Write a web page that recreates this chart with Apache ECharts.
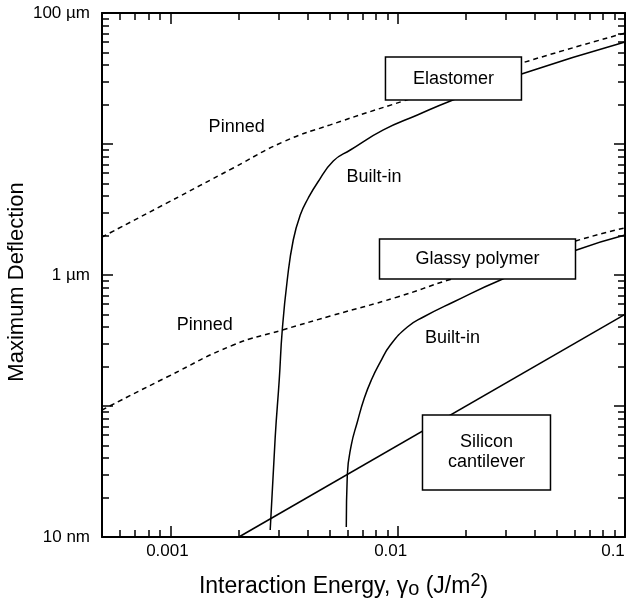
<!DOCTYPE html>
<html><head><meta charset="utf-8">
<script src="https://cdn.jsdelivr.net/npm/echarts@6/dist/echarts.min.js"></script>
<style>html,body{margin:0;padding:0;background:#fff}#c{width:627px;height:601px}</style>
</head><body><div id="c"></div>
<script>
const FONT = '"Liberation Sans", Arial, Helvetica, sans-serif';

// Axis ticks / labels
const xTickValues = [0.001, 0.01, 0.1];
const xTickLabels = ['0.001', '0.01', '0.1'];
const yTickValues = [0.01, 1, 100];
const yTickLabels = ['10 nm', '1 \u00b5m', '100 \u00b5m'];

// Series: [interaction energy (J/m^2), maximum deflection (µm)]
const elastomerPinned = [[0.0005,1.95],[0.000967,3.55],[0.00189,6.56],[0.00314,10.4],[0.00505,14.0],[0.0106,21.3],[0.0351,41.5],[0.1,70.3]];
const elastomerBuiltIn = [[0.002748,0.0113],[0.002891,0.058],[0.003011,0.158],[0.003105,0.380],[0.003266,0.916],[0.003471,1.85],[0.003725,2.87],[0.004042,3.87],[0.004427,5.04],[0.005207,7.42],[0.006186,9.0],[0.008647,12.8],[0.01221,16.65],[0.01706,21.3],[0.03506,34.2],[0.1,60.1]];
const glassyPinned = [[0.0005,0.0932],[0.000967,0.1665],[0.00189,0.292],[0.003105,0.380],[0.00505,0.486],[0.00997,0.679],[0.01672,0.916],[0.0606,1.82],[0.1,2.29]];
const glassyBuiltIn = [[0.00594,0.01192],[0.006001,0.0297],[0.00625,0.0504],[0.006643,0.0755],[0.007131,0.115],[0.007656,0.158],[0.008389,0.217],[0.009283,0.292],[0.01103,0.401],[0.01297,0.478],[0.01759,0.622],[0.02834,0.916],[0.06124,1.552],[0.1,2.02]];
const siliconCantilever = [[0.002,0.01],[0.1,0.5]];

// Annotations
const annotationTexts = ['Pinned','Built-in','Pinned','Built-in','Elastomer','Glassy polymer','Silicon\ncantilever'];
const annotationX = [0.001956, 0.007866, 0.001417, 0.01741, 0.01759, 0.02244, 0.02458];
const annotationY = [13.5, 5.63, 0.415, 0.333, 31.6, 1.325, 0.0442];

// Box sizes for boxed annotations (index-aligned; null = no box)
const boxSizes = [null, null, null, null, [136, 43], [196, 40], [128, 75]];

function matchIndex(v, vals) {
  for (let i = 0; i < vals.length; i++) {
    if (Math.abs(Math.log10(v) - Math.log10(vals[i])) < 1e-6) return i;
  }
  return -1;
}

const tickStyle = {color:'#000', width:1.5};
const xLabelStyles = ['a', 'b', 'c'];
function makeAxis(pos, isX, showLabels) {
  const a = {
    type: 'log', logBase: 10, position: pos, gridIndex: 0,
    min: isX ? 0.0005 : 0.01, max: isX ? 0.1 : 100,
    nameMoveOverlap: false,
    axisLine: {show:true, onZero:false, lineStyle:{color:'#000', width:2}},
    axisTick: {show:true, inside:true, length:11, lineStyle:tickStyle},
    minorTick: {show:true, splitNumber:9, length:7, lineStyle:tickStyle},
    splitLine: {show:false}, minorSplitLine: {show:false},
    axisLabel: {show: showLabels, color:'#000', fontSize:17, fontFamily:FONT,
      margin: isX ? 6 : 12,
      formatter: (v) => {
        if (isX) {
          const i = matchIndex(v, xTickValues);
          return i < 0 ? '' : '{' + xLabelStyles[i] + '|' + xTickLabels[i] + '}';
        }
        const j = matchIndex(v, yTickValues);
        return j < 0 ? '' : yTickLabels[j];
      }
    }
  };
  if (isX) {
    const base = {fontSize:17, fontFamily:FONT, color:'#000'};
    a.axisLabel.rich = {
      a: Object.assign({padding:[0,6,0,0]}, base),
      b: Object.assign({padding:[0,14,0,0]}, base),
      c: Object.assign({padding:[0,24,0,0]}, base)
    };
  }
  return a;
}

const xMain = makeAxis('bottom', true, true);
xMain.name = 'Interaction Energy, {g|\u03b3}{s|o} (J/m{p|2})';
xMain.nameLocation = 'middle';
xMain.nameGap = 35;
xMain.nameTextStyle = {color:'#000', fontSize:23, fontFamily:FONT, lineHeight:30, padding:[0,40,0,0],
  rich: {
    g: {fontSize:23, fontFamily:FONT, color:'#000', lineHeight:30},
    s: {fontSize:20, fontFamily:FONT, color:'#000', lineHeight:24, padding:[4,0,0,0]},
    p: {fontSize:18, fontFamily:FONT, color:'#000', lineHeight:16, verticalAlign:'top'}
  }};
const xTop = makeAxis('top', true, false);
const yMain = makeAxis('left', false, true);
yMain.name = 'Maximum Deflection';
yMain.nameLocation = 'middle';
yMain.nameGap = 72;
yMain.nameTextStyle = {color:'#000', fontSize:22, fontFamily:FONT, lineHeight:26, padding:[0,14,0,0]};
const yRight = makeAxis('right', false, false);

function lineSeries(name, data, dashed) {
  return {
    name, type:'line', data, xAxisIndex:0, yAxisIndex:0,
    symbol:'none', showSymbol:false, smooth:0.5, z:2, silent:true,
    lineStyle:{color:'#000', width:1.5, type: dashed ? [5,4] : 'solid'}
  };
}

const annotationData = annotationTexts.map((t, i) => [annotationX[i], annotationY[i], i]);

const chart = echarts.init(document.getElementById('c'), null, {renderer:'canvas'});
chart.setOption({
  animation:false,
  backgroundColor:'#fff',
  grid:{left:102, right:2, top:13, bottom:64, containLabel:false, outerBoundsMode:'none'},
  xAxis:[xMain, xTop],
  yAxis:[yMain, yRight],
  series:[
    lineSeries('Elastomer pinned', elastomerPinned, true),
    lineSeries('Elastomer built-in', elastomerBuiltIn, false),
    lineSeries('Glassy pinned', glassyPinned, true),
    lineSeries('Glassy built-in', glassyBuiltIn, false),
    lineSeries('Silicon cantilever', siliconCantilever, false),
    {
      type:'custom', xAxisIndex:0, yAxisIndex:0, z:10, silent:true, clip:false,
      data: annotationData,
      renderItem: function (params, api) {
        const i = api.value(2);
        const p = api.coord([api.value(0), api.value(1)]);
        const children = [];
        const b = boxSizes[i];
        if (b) {
          children.push({type:'rect', shape:{x:p[0]-b[0]/2, y:p[1]-b[1]/2, width:b[0], height:b[1]},
            style:{fill:'#fff', stroke:'#000', lineWidth:1.5}});
        }
        children.push({type:'text', x:p[0], y:p[1],
          style:{text:annotationTexts[i], fill:'#000', fontSize:18, fontFamily:FONT,
            align:'center', verticalAlign:'middle', lineHeight:20}});
        return {type:'group', children};
      }
    }
  ]
});
</script></body></html>
